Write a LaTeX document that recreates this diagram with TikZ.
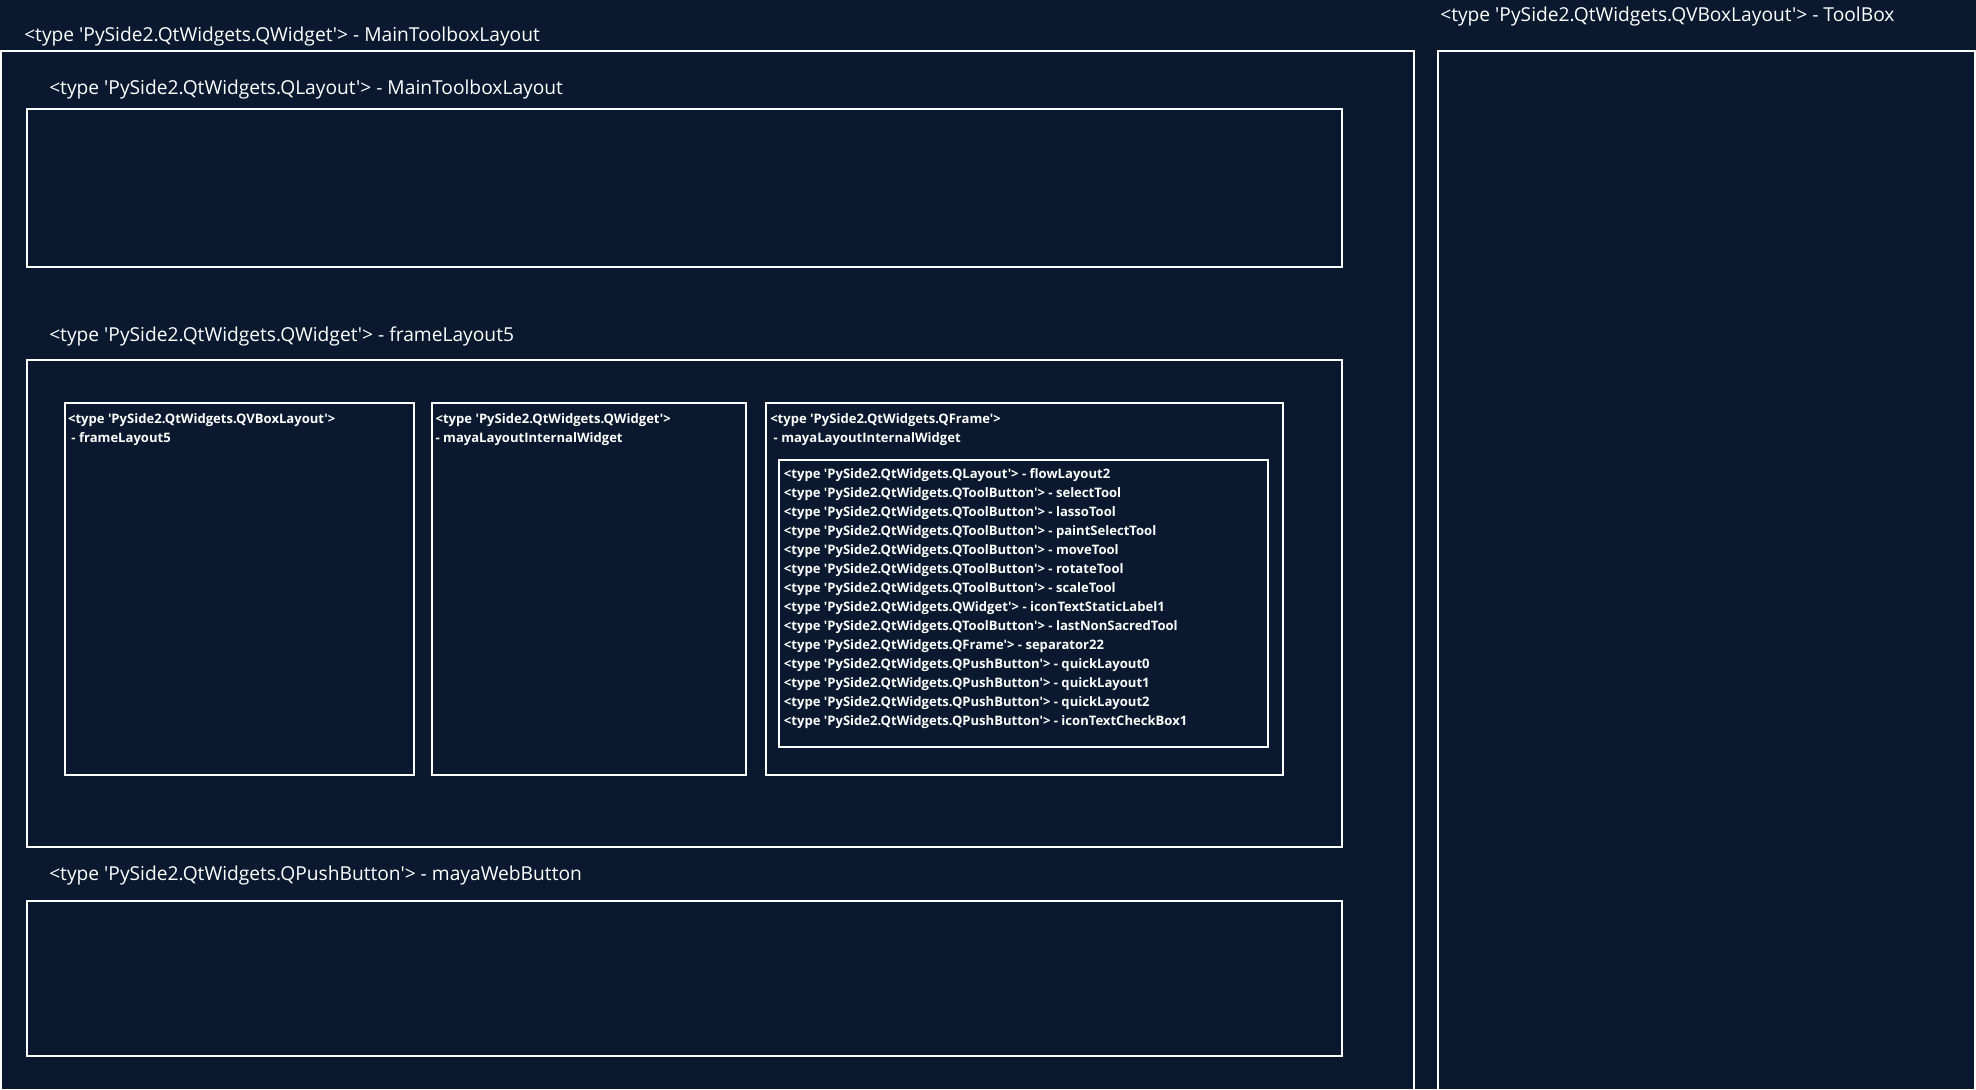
\documentclass[tikz,border=0pt]{standalone}
\usepackage{fontspec}
\newfontfamily\uifont{Open Sans}
\usetikzlibrary{positioning,fit}
\definecolor{PanelBg}{HTML}{0A192F}

\begin{document}
\begin{tikzpicture}[
  x=0.75pt, y=-0.75pt,
  box/.style   = {draw=white, line width=1pt, inner sep=0pt},
  title/.style = {text=white, inner sep=0pt, anchor=west,
                  font=\uifont\fontsize{14.4}{17}\selectfont},
  small/.style = {text=white, inner sep=0pt, align=left,
                  font=\uifont\bfseries\fontsize{9.8}{14.25}\selectfont},
  node distance=5pt and 3pt
]
  \useasboundingbox (0,0) rectangle (1976,1089);
  \fill[PanelBg] (0,0) rectangle (1976,1089);

  % outer containers
  \node[box, fit={(1,51) (1414,1100)}] (mainwidget) {};
  \node[box, fit={(1438,51) (1975,1100)}] (toolbox) {};
  \node[title] (mainwidgetlbl) at (24,36.5) {<type 'PySide2.QtWidgets.QWidget'> - MainToolboxLayout};
  \node[title] (toolboxlbl) at (1440,17) {<type 'PySide2.QtWidgets.QVBoxLayout'> - ToolBox};

  % rows of the main layout
  \node[box, fit={(27,109) (1342,267)}] (mainlayout) {};
  \node[box, fit={(27,360) (1342,847)}] (framelayout) {};
  \node[box, fit={(27,901) (1342,1056)}] (webbutton) {};
  \node[title] (mainlayoutlbl) at (49,89.5) {<type 'PySide2.QtWidgets.QLayout'> - MainToolboxLayout};
  \node[title] (framelayoutlbl) at (49,336.5) {<type 'PySide2.QtWidgets.QWidget'> - frameLayout5};
  \node[title] (webbuttonlbl) at (49,875.5) {<type 'PySide2.QtWidgets.QPushButton'> - mayaWebButton};

  % children of frameLayout5
  \node[box, fit={(65,403) (414,775)}] (vbox) {};
  \node[box, fit={(432,403) (746,775)}] (internal) {};
  \node[box, fit={(766,403) (1283,775)}] (qframe) {};
  \node[box, fit={(779,460) (1268,747)}] (flow) {};

  \node[small, below right=8pt and 2.6pt of vbox.north west] (vboxtxt)
    {<type 'PySide2.QtWidgets.QVBoxLayout'>\\\ - frameLayout5};
  \node[small, below right=8pt and 3pt of internal.north west] (internaltxt)
    {<type 'PySide2.QtWidgets.QWidget'>\\- mayaLayoutInternalWidget};
  \node[small, below right=8pt and 3.5pt of qframe.north west] (qframetxt)
    {<type 'PySide2.QtWidgets.QFrame'>\\\ - mayaLayoutInternalWidget};
  \node[small, below right=7pt and 4pt of flow.north west] (flowtxt)
    {<type 'PySide2.QtWidgets.QLayout'> - flowLayout2\\
     <type 'PySide2.QtWidgets.QToolButton'> - selectTool\\
     <type 'PySide2.QtWidgets.QToolButton'> - lassoTool\\
     <type 'PySide2.QtWidgets.QToolButton'> - paintSelectTool\\
     <type 'PySide2.QtWidgets.QToolButton'> - moveTool\\
     <type 'PySide2.QtWidgets.QToolButton'> - rotateTool\\
     <type 'PySide2.QtWidgets.QToolButton'> - scaleTool\\
     <type 'PySide2.QtWidgets.QWidget'> - iconTextStaticLabel1\\
     <type 'PySide2.QtWidgets.QToolButton'> - lastNonSacredTool\\
     <type 'PySide2.QtWidgets.QFrame'> - separator22\\
     <type 'PySide2.QtWidgets.QPushButton'> - quickLayout0\\
     <type 'PySide2.QtWidgets.QPushButton'> - quickLayout1\\
     <type 'PySide2.QtWidgets.QPushButton'> - quickLayout2\\
     <type 'PySide2.QtWidgets.QPushButton'> - iconTextCheckBox1};
\end{tikzpicture}
\end{document}
